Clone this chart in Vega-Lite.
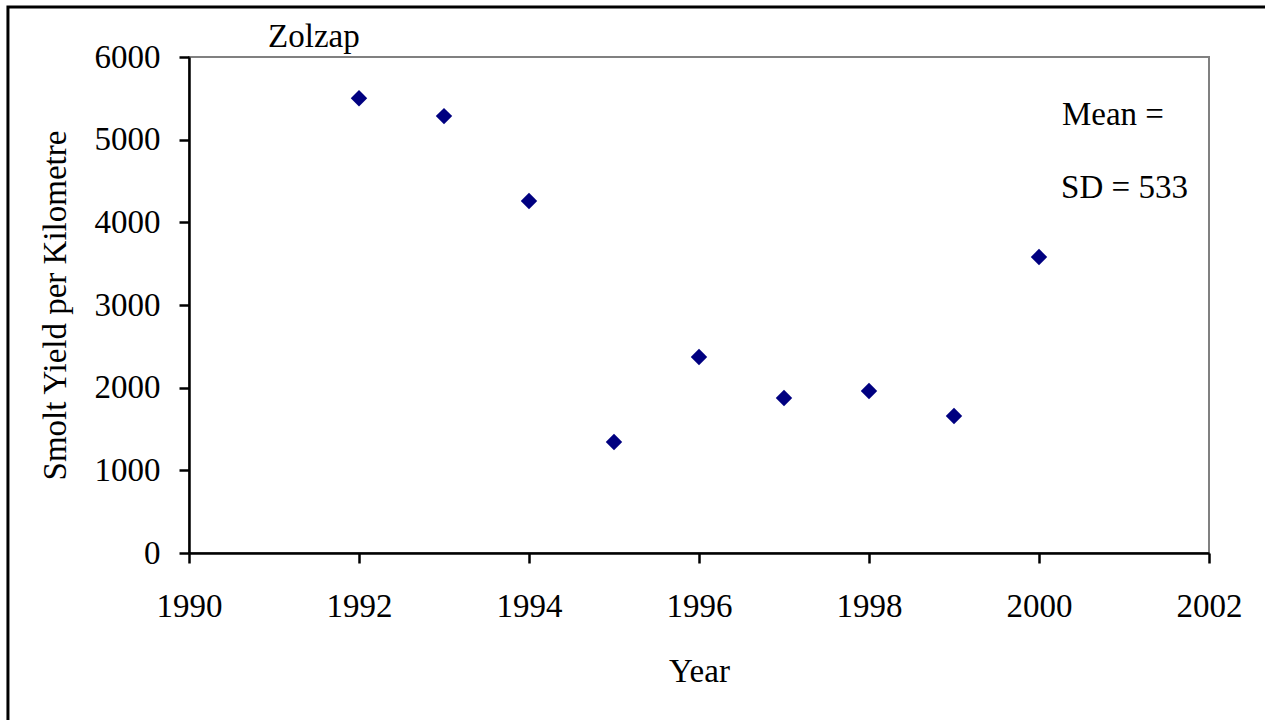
{
  "$schema": "https://vega.github.io/schema/vega-lite/v6.json",
  "width": 1020,
  "height": 496,
  "autosize": {"type": "none"},
  "padding": {"left": 189, "top": 57, "right": 56, "bottom": 167},
  "background": "white",
  "config": {
    "font": "Liberation Serif",
    "view": {"stroke": "#808080", "strokeWidth": 2},
    "axis": {
      "domainColor": "black", "domainWidth": 2.5, "tickColor": "black", "tickWidth": 2.5,
      "tickSize": 10, "grid": false, "labelFont": "Liberation Serif", "labelFontSize": 33,
      "labelColor": "black", "titleFont": "Liberation Serif", "titleFontSize": 33,
      "titleFontWeight": "normal", "titleColor": "black", "labelFlush": false
    }
  },
  "data": {"values": [
    {"year": 1992, "yield": 5500},
    {"year": 1993, "yield": 5285},
    {"year": 1994, "yield": 4258},
    {"year": 1995, "yield": 1343},
    {"year": 1996, "yield": 2371},
    {"year": 1997, "yield": 1875},
    {"year": 1998, "yield": 1960},
    {"year": 1999, "yield": 1657},
    {"year": 2000, "yield": 3580}
  ]},
  "layer": [
    {
      "data": {"values": [{"frame": 1}]},
      "mark": {"type": "rect", "fill": null, "stroke": "black", "strokeWidth": 3, "clip": false},
      "encoding": {
        "x": {"datum": 1987.87, "type": "quantitative"},
        "x2": {"datum": 2003.2},
        "y": {"datum": 6605, "type": "quantitative"},
        "y2": {"datum": -3000}
      }
    },
    {
      "mark": {"type": "point", "shape": "diamond", "filled": true, "color": "#000080", "size": 270, "opacity": 1},
      "encoding": {
        "x": {"field": "year", "type": "quantitative", "title": "Year",
          "scale": {"domain": [1990, 2002], "nice": false, "zero": false},
          "axis": {"values": [1990, 1992, 1994, 1996, 1998, 2000, 2002], "format": "d", "labelPadding": 27, "titlePadding": 32}},
        "y": {"field": "yield", "type": "quantitative", "title": "Smolt Yield per Kilometre",
          "scale": {"domain": [0, 6000], "nice": false},
          "axis": {"values": [0, 1000, 2000, 3000, 4000, 5000, 6000], "format": "d", "labelPadding": 19, "titlePadding": 22}}
      }
    },
    {
      "data": {"values": [{"label": "Zolzap", "x": 1990.93, "y": 6121}]},
      "mark": {"type": "text", "align": "left", "baseline": "alphabetic", "fontSize": 33, "font": "Liberation Serif", "color": "black", "clip": false},
      "encoding": {
        "x": {"field": "x", "type": "quantitative"},
        "y": {"field": "y", "type": "quantitative"},
        "text": {"field": "label"}
      }
    },
    {
      "data": {"values": [{"label": "Mean =", "x": 2000.27, "y": 5177}, {"label": "SD = 533", "x": 2000.26, "y": 4294}]},
      "mark": {"type": "text", "align": "left", "baseline": "alphabetic", "fontSize": 33, "font": "Liberation Serif", "color": "black"},
      "encoding": {
        "x": {"field": "x", "type": "quantitative"},
        "y": {"field": "y", "type": "quantitative"},
        "text": {"field": "label"}
      }
    }
  ]
}
